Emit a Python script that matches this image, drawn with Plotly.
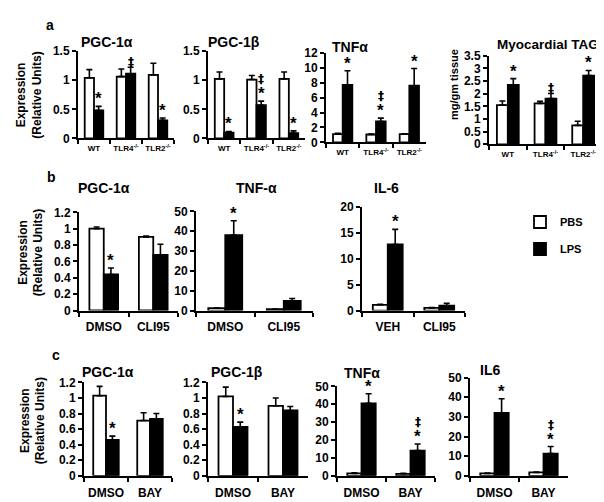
import plotly.graph_objects as go

# ---------------- data ----------------
a_groups = ["WT", "TLR4<sup>-/-</sup>", "TLR2<sup>-/-</sup>"]
b_groups = ["DMSO", "CLI95"]
b_groups_il6 = ["VEH", "CLI95"]
c_groups = ["DMSO", "BAY"]

a_pgc1a_pbs = [1.04, 1.06, 1.09]; a_pgc1a_pbs_err = [0.14, 0.13, 0.20]
a_pgc1a_lps = [0.48, 1.11, 0.31]; a_pgc1a_lps_err = [0.07, 0.11, 0.04]
a_pgc1a_marks = ["*", "‡", "*"]

a_pgc1b_pbs = [1.02, 1.01, 1.02]; a_pgc1b_pbs_err = [0.12, 0.07, 0.12]
a_pgc1b_lps = [0.10, 0.57, 0.09]; a_pgc1b_lps_err = [0.02, 0.07, 0.04]
a_pgc1b_marks = ["*", "*‡", "*"]

a_tnf_pbs = [1.1, 1.05, 1.1]; a_tnf_pbs_err = [0.1, 0.05, 0.05]
a_tnf_lps = [7.7, 2.8, 7.6]; a_tnf_lps_err = [1.9, 0.45, 2.3]
a_tnf_marks = ["*", "*‡", "*"]

a_tag_pbs = [1.55, 1.62, 0.75]; a_tag_pbs_err = [0.16, 0.08, 0.16]
a_tag_lps = [2.35, 1.81, 2.72]; a_tag_lps_err = [0.25, 0.20, 0.20]
a_tag_marks = ["*", "‡", "*"]

b_pgc1a_pbs = [1.0, 0.9]; b_pgc1a_pbs_err = [0.02, 0.01]
b_pgc1a_lps = [0.44, 0.68]; b_pgc1a_lps_err = [0.08, 0.13]
b_pgc1a_marks = ["*", ""]

b_tnf_pbs = [1.2, 0.7]; b_tnf_pbs_err = [0.1, 0.1]
b_tnf_lps = [38.0, 4.8]; b_tnf_lps_err = [7.3, 1.3]
b_tnf_marks = ["*", ""]

b_il6_pbs = [1.1, 0.5]; b_il6_pbs_err = [0.1, 0.05]
b_il6_lps = [12.7, 0.95]; b_il6_lps_err = [2.9, 0.45]
b_il6_marks = ["*", ""]

c_pgc1a_pbs = [1.03, 0.71]; c_pgc1a_pbs_err = [0.12, 0.10]
c_pgc1a_lps = [0.46, 0.73]; c_pgc1a_lps_err = [0.05, 0.07]
c_pgc1a_marks = ["*", ""]

c_pgc1b_pbs = [1.02, 0.90]; c_pgc1b_pbs_err = [0.12, 0.10]
c_pgc1b_lps = [0.63, 0.84]; c_pgc1b_lps_err = [0.06, 0.05]
c_pgc1b_marks = ["*", ""]

c_tnf_pbs = [1.3, 1.1]; c_tnf_pbs_err = [0.4, 0.3]
c_tnf_lps = [40.5, 14.1]; c_tnf_lps_err = [5.4, 3.7]
c_tnf_marks = ["*", "*‡"]

c_il6_pbs = [1.2, 1.7]; c_il6_pbs_err = [0.2, 0.2]
c_il6_lps = [32.0, 11.3]; c_il6_lps_err = [7.2, 3.6]
c_il6_marks = ["*", "*‡"]

W, H = 604, 502
FONT = "Arial, 'Liberation Sans', sans-serif"
BARGAP = 0.42

panels = [
    dict(t="PGC-1α", g=a_groups, p=a_pgc1a_pbs, pe=a_pgc1a_pbs_err, l=a_pgc1a_lps, le=a_pgc1a_lps_err,
         m=a_pgc1a_marks, ymax=1.5, dt=0.5, x0=70, x1=166, yt=37, yb=127, tx=99, ty=28, xf=8, yf=12, xs=1),
    dict(t="PGC-1β", g=a_groups, p=a_pgc1b_pbs, pe=a_pgc1b_pbs_err, l=a_pgc1b_lps, le=a_pgc1b_lps_err,
         m=a_pgc1b_marks, ymax=1.5, dt=0.5, x0=200, x1=297, yt=37, yb=127, tx=226, ty=28, xf=8, yf=12, xs=1),
    dict(t="TNFα", g=a_groups, p=a_tnf_pbs, pe=a_tnf_pbs_err, l=a_tnf_lps, le=a_tnf_lps_err,
         m=a_tnf_marks, ymax=12, dt=2, x0=318, x1=418, yt=39, yb=131, tx=342, ty=33, xf=8, yf=12, xs=1),
    dict(t="Myocardial TAG", g=a_groups, p=a_tag_pbs, pe=a_tag_pbs_err, l=a_tag_lps, le=a_tag_lps_err,
         m=a_tag_marks, ymax=3.5, dt=0.5, x0=481, x1=594, yt=42, yb=133, tx=540, ty=30, xf=8, yf=12, xs=1),
    dict(t="PGC-1α", g=b_groups, p=b_pgc1a_pbs, pe=b_pgc1a_pbs_err, l=b_pgc1a_lps, le=b_pgc1a_lps_err,
         m=b_pgc1a_marks, ymax=1.2, dt=0.2, x0=71, x1=170, yt=203, yb=304, tx=96, ty=178, xf=12, yf=12, xs=4),
    dict(t="TNF-α", g=b_groups, p=b_tnf_pbs, pe=b_tnf_pbs_err, l=b_tnf_lps, le=b_tnf_lps_err,
         m=b_tnf_marks, ymax=50, dt=10, x0=188, x1=305, yt=202, yb=304, tx=248, ty=178, xf=12, yf=12, xs=4),
    dict(t="IL-6", g=b_groups_il6, p=b_il6_pbs, pe=b_il6_pbs_err, l=b_il6_lps, le=b_il6_lps_err,
         m=b_il6_marks, ymax=20, dt=5, x0=354, x1=457, yt=197, yb=304, tx=378, ty=178, xf=12, yf=12, xs=4),
    dict(t="PGC-1α", g=c_groups, p=c_pgc1a_pbs, pe=c_pgc1a_pbs_err, l=c_pgc1a_lps, le=c_pgc1a_lps_err,
         m=c_pgc1a_marks, ymax=1.2, dt=0.2, x0=76, x1=164, yt=378, yb=474, tx=100, ty=367, xf=12, yf=12, xs=5),
    dict(t="PGC-1β", g=c_groups, p=c_pgc1b_pbs, pe=c_pgc1b_pbs_err, l=c_pgc1b_lps, le=c_pgc1b_lps_err,
         m=c_pgc1b_marks, ymax=1.2, dt=0.2, x0=200, x1=300, yt=378, yb=474, tx=229, ty=367, xf=12, yf=12, xs=5),
    dict(t="TNFα", g=c_groups, p=c_tnf_pbs, pe=c_tnf_pbs_err, l=c_tnf_lps, le=c_tnf_lps_err,
         m=c_tnf_marks, ymax=50, dt=10, x0=329, x1=427, yt=382, yb=474, tx=354, ty=368, xf=12, yf=12, xs=5),
    dict(t="IL6", g=c_groups, p=c_il6_pbs, pe=c_il6_pbs_err, l=c_il6_lps, le=c_il6_lps_err,
         m=c_il6_marks, ymax=50, dt=10, x0=462, x1=560, yt=373, yb=474, tx=482, ty=365, xf=12, yf=12, xs=5),
]

fig = go.Figure()
annotations = []
layout = {}

for i, pn in enumerate(panels):
    k = "" if i == 0 else str(i + 1)
    xa, ya = "x" + k, "y" + k
    fig.add_trace(go.Bar(
        x=pn["g"], y=pn["p"], name="PBS", xaxis=xa, yaxis=ya, showlegend=(i == 0), legendgroup="pbs",
        marker=dict(color="white", line=dict(color="black", width=1.8)),
        error_y=dict(type="data", symmetric=False, array=pn["pe"], arrayminus=[0] * len(pn["pe"]),
                     color="black", thickness=1.6, width=3),
    ))
    fig.add_trace(go.Bar(
        x=pn["g"], y=pn["l"], name="LPS", xaxis=xa, yaxis=ya, showlegend=(i == 0), legendgroup="lps",
        marker=dict(color="black", line=dict(color="black", width=1.8)),
        error_y=dict(type="data", symmetric=False, array=pn["le"], arrayminus=[0] * len(pn["le"]),
                     color="black", thickness=1.6, width=3),
    ))
    layout["xaxis" + k] = dict(
        domain=[pn["x0"] / W, pn["x1"] / W], anchor=ya, type="category",
        showline=True, linecolor="black", linewidth=2, ticks="outside", tickson="boundaries",
        ticklen=4, tickwidth=2, tickcolor="black", showgrid=False, zeroline=False, tickangle=0,
        tickfont=dict(family=FONT, size=pn["xf"], color="black", weight="bold"),
        ticklabelstandoff=pn["xs"], fixedrange=True,
    )
    layout["yaxis" + k] = dict(
        domain=[1 - pn["yb"] / H, 1 - pn["yt"] / H], anchor=xa, range=[0, pn["ymax"]], dtick=pn["dt"],
        tick0=0, showline=True, linecolor="black", linewidth=2, ticks="outside", ticklen=4,
        tickwidth=2, tickcolor="black", showgrid=False, zeroline=False,
        tickfont=dict(family=FONT, size=pn["yf"], color="black", weight="bold"), fixedrange=True,
    )
    annotations.append(dict(
        x=pn["tx"] / W, y=1 - pn["ty"] / H, xref="paper", yref="paper", text="<b>" + pn["t"] + "</b>",
        showarrow=False, xanchor="center", yanchor="middle",
        font=dict(family=FONT, size=13.5 if len(pn["t"]) > 8 else 14, color="black"),
    ))
    off = (1 - BARGAP) / 4
    for gi, mk in enumerate(pn["m"]):
        for j, ch in enumerate(mk):
            annotations.append(dict(
                x=gi + off, y=pn["l"][gi] + pn["le"][gi], xref=xa, yref=ya, text="<b>" + ch + "</b>",
                showarrow=False, xanchor="center", yanchor="bottom", yshift=-4 + j * 17,
                font=dict(family=FONT if ch == "*" else "DejaVu Sans", size=17 if ch == "*" else 12,
                          color="black"),
            ))

for txt, x, y in [("a", 42, 10), ("b", 43, 167), ("c", 48, 350)]:
    annotations.append(dict(x=x / W, y=1 - y / H, xref="paper", yref="paper", text="<b>" + txt + "</b>",
                            showarrow=False, xanchor="center", yanchor="middle",
                            font=dict(family=FONT, size=14, color="black")))
for x, y in [(21, 83), (23, 245), (25, 418)]:
    annotations.append(dict(x=x / W, y=1 - y / H, xref="paper", yref="paper",
                            text="<b>Expression<br>(Relative Units)</b>", textangle=-90,
                            showarrow=False, xanchor="center", yanchor="middle",
                            font=dict(family=FONT, size=12, color="black")))
annotations.append(dict(x=446 / W, y=1 - 72 / H, xref="paper", yref="paper", text="<b>mg/gm tissue</b>",
                        textangle=-90, showarrow=False, xanchor="center", yanchor="middle",
                        font=dict(family=FONT, size=11, color="black")))

fig.update_layout(
    width=W, height=H, margin=dict(l=0, r=0, t=0, b=0),
    paper_bgcolor="white", plot_bgcolor="white",
    barmode="group", bargap=BARGAP, bargroupgap=0,
    annotations=annotations,
    legend=dict(x=512 / W, y=1 - 198 / H, xanchor="left", yanchor="top", tracegroupgap=8,
                font=dict(family=FONT, size=11, color="black", weight="bold"),
                bgcolor="rgba(0,0,0,0)"),
    showlegend=True,
    **layout,
)

fig.write_html("out.html")
